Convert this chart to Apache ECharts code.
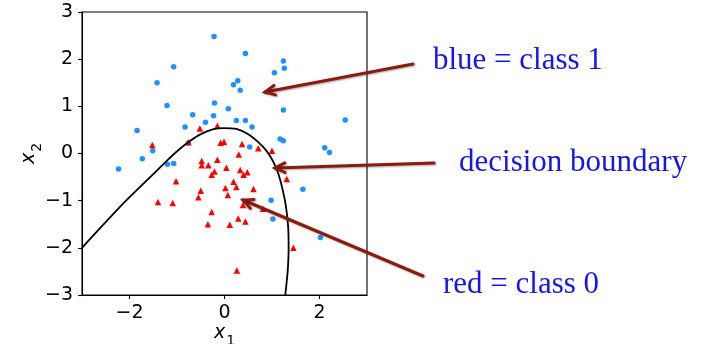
<!DOCTYPE html>
<html>
<head>
<meta charset="utf-8">
<script src="https://cdn.jsdelivr.net/npm/echarts@6/dist/echarts.min.js"></script>
<style>
  html, body { margin: 0; padding: 0; background: #ffffff; }
  #chart { width: 702px; height: 344px; }
</style>
</head>
<body>
<div id="chart"></div>
<script>
// Class 1 samples (blue dots)
const class1X = [-0.22, 0.44, 1.24, 1.26, 1.05, -1.07, -1.42, 0.28, 0.19, 0.33, -1.21, -0.21, 0.08, 1.24, -0.67, -0.23, -0.40, 0.25, 0.44, -0.83, 0.58, 2.54, -1.84, 1.17, 1.24, 2.11, 2.21, -1.51, -1.73, -2.23, -1.20, -1.07, 0.53, 1.65, 0.98, 1.02, 2.02, -0.76];
const class1Y = [2.48, 2.12, 1.96, 1.81, 1.71, 1.84, 1.50, 1.54, 1.46, 1.34, 1.02, 1.07, 0.95, 0.92, 0.82, 0.80, 0.66, 0.70, 0.70, 0.56, 0.56, 0.71, 0.49, 0.31, 0.27, 0.12, 0.02, 0.06, -0.11, -0.33, -0.23, -0.21, 0.14, -0.76, -0.99, -1.39, -1.78, 0.22];

// Class 0 samples (red triangles)
const class0X = [-0.52, -0.15, -1.52, -0.08, -0.01, 0.37, -0.76, 0.30, 0.71, 1.00, -0.48, -0.48, -0.34, -0.15, -0.21, -0.27, 0.04, 0.33, 0.40, 0.48, -1.02, 0.19, 0.02, 0.25, 0.61, -0.50, 0.07, -0.55, 1.31, -1.40, -1.09, 0.39, 0.81, -0.27, 0.29, 0.44, -0.35, 0.11, 1.45, 0.26];
const class0Y = [0.53, 0.59, 0.18, 0.23, 0.25, 0.20, 0.24, -0.02, 0.11, 0.06, -0.16, -0.25, -0.25, -0.13, -0.38, -0.45, -0.30, -0.35, -0.45, -0.40, -0.59, -0.60, -0.73, -0.71, -0.75, -0.79, -0.88, -0.93, -0.54, -1.03, -1.05, -1.09, -1.17, -1.24, -1.38, -1.44, -1.50, -1.51, -2.00, -2.48];

// Decision boundary traced as a polyline
const boundaryX = [-3.0, -2.6, -2.2, -1.8, -1.45, -1.2, -0.95, -0.72, -0.5, -0.25, -0.02, 0.25, 0.5, 0.7, 0.88, 1.02, 1.13, 1.22, 1.29, 1.34, 1.35, 1.33, 1.28];
const boundaryY = [-2.0, -1.56, -1.13, -0.73, -0.39, -0.14, 0.09, 0.27, 0.41, 0.51, 0.54, 0.52, 0.41, 0.25, 0.06, -0.16, -0.42, -0.75, -1.1, -1.55, -2.0, -2.5, -3.0];

// Axis tick values
const xTicks = [-2, 0, 2];
const yTicks = [-3, -2, -1, 0, 1, 2, 3];

const zip = (xs, ys) => xs.map((x, i) => [x, ys[i]]);
const fmt = v => (v < 0 ? '\u2212' + Math.abs(v) : String(v));

const chart = echarts.init(document.getElementById('chart'), null, { renderer: 'canvas' });

const tickFont = { fontFamily: 'DejaVu Sans', fontSize: 19, color: '#000' };
const ARROW = '#8c1a0e';
const NOTE = '#1414f4';

function arrow(x1, y1, x2, y2) {
  const ang = Math.atan2(y1 - y2, x1 - x2);
  const L = 11, a = 0.45;
  const p1 = [x2 + L * Math.cos(ang + a), y2 + L * Math.sin(ang + a)];
  const p2 = [x2 + L * Math.cos(ang - a), y2 + L * Math.sin(ang - a)];
  const style = { stroke: ARROW, lineWidth: 3, lineCap: 'round', lineJoin: 'miter',
    shadowBlur: 2, shadowColor: 'rgba(0,0,0,0.35)', shadowOffsetX: 1, shadowOffsetY: 1 };
  return [
    { type: 'line', shape: { x1: x1, y1: y1, x2: x2, y2: y2 }, style: style, z: 100 },
    { type: 'polyline', shape: { points: [p1, [x2, y2], p2] }, style: Object.assign({ fill: null }, style), z: 100 }
  ];
}

function note(text, x, y) {
  return { type: 'text', x: x, y: y, z: 100,
    style: { text: text, fill: NOTE, font: '31px "Liberation Serif"', verticalAlign: 'middle', align: 'left' } };
}

const nameRich = {
  x: { fontFamily: 'DejaVu Sans', fontStyle: 'italic', fontSize: 19, color: '#000', verticalAlign: 'bottom', lineHeight: 20 },
  s: { fontFamily: 'DejaVu Sans', fontSize: 14, color: '#000', verticalAlign: 'bottom', lineHeight: 20, padding: [0, 0, -5, 1] }
};

chart.setOption({
  animation: false,
  grid: { left: 82, top: 12, width: 285, height: 283, show: true, borderColor: '#000', borderWidth: 1.1,
    containLabel: false, outerBoundsMode: 'none' },
  xAxis: {
    type: 'value', min: -3, max: 3,
    axisLine: { show: true, onZero: false, lineStyle: { color: '#000', width: 1.1 } },
    axisTick: { show: true, length: 4, customValues: xTicks, lineStyle: { color: '#000', width: 1.1 } },
    axisLabel: Object.assign({ customValues: xTicks, margin: 9, formatter: fmt }, tickFont),
    splitLine: { show: false },
    name: '{x|x}{s|1}', nameLocation: 'middle', nameGap: 38, nameMoveOverlap: false,
    nameTextStyle: { verticalAlign: 'middle', rich: nameRich }
  },
  yAxis: {
    type: 'value', min: -3, max: 3, interval: 1,
    axisLine: { show: true, onZero: false, lineStyle: { color: '#000', width: 1.1 } },
    axisTick: { show: true, length: 4, lineStyle: { color: '#000', width: 1.1 } },
    axisLabel: Object.assign({ margin: 9, formatter: fmt }, tickFont),
    splitLine: { show: false },
    name: '{x|x}{s|2}', nameLocation: 'middle', nameGap: 43, nameRotate: 90, nameMoveOverlap: false,
    nameTextStyle: { rich: nameRich }
  },
  series: [
    { name: 'class 1', type: 'scatter', data: zip(class1X, class1Y), symbol: 'circle', symbolSize: 5.5,
      itemStyle: { color: '#1e90ff', opacity: 1 }, z: 2 },
    { name: 'class 0', type: 'scatter', data: zip(class0X, class0Y), symbol: 'triangle', symbolSize: 6.5,
      itemStyle: { color: '#ff0000', opacity: 1 }, z: 3 },
    { name: 'decision boundary', type: 'line', data: zip(boundaryX, boundaryY), smooth: 0.2,
      showSymbol: false, symbol: 'none', lineStyle: { color: '#000', width: 1.8 }, z: 4, clip: true }
  ],
  graphic: [].concat(
    arrow(413, 64, 265, 92),
    arrow(434, 163, 275, 168),
    arrow(423, 276, 243, 200),
    [note('blue = class 1', 433, 61), note('decision boundary', 459, 163), note('red = class 0', 443, 285)]
  )
});
</script>
</body>
</html>
